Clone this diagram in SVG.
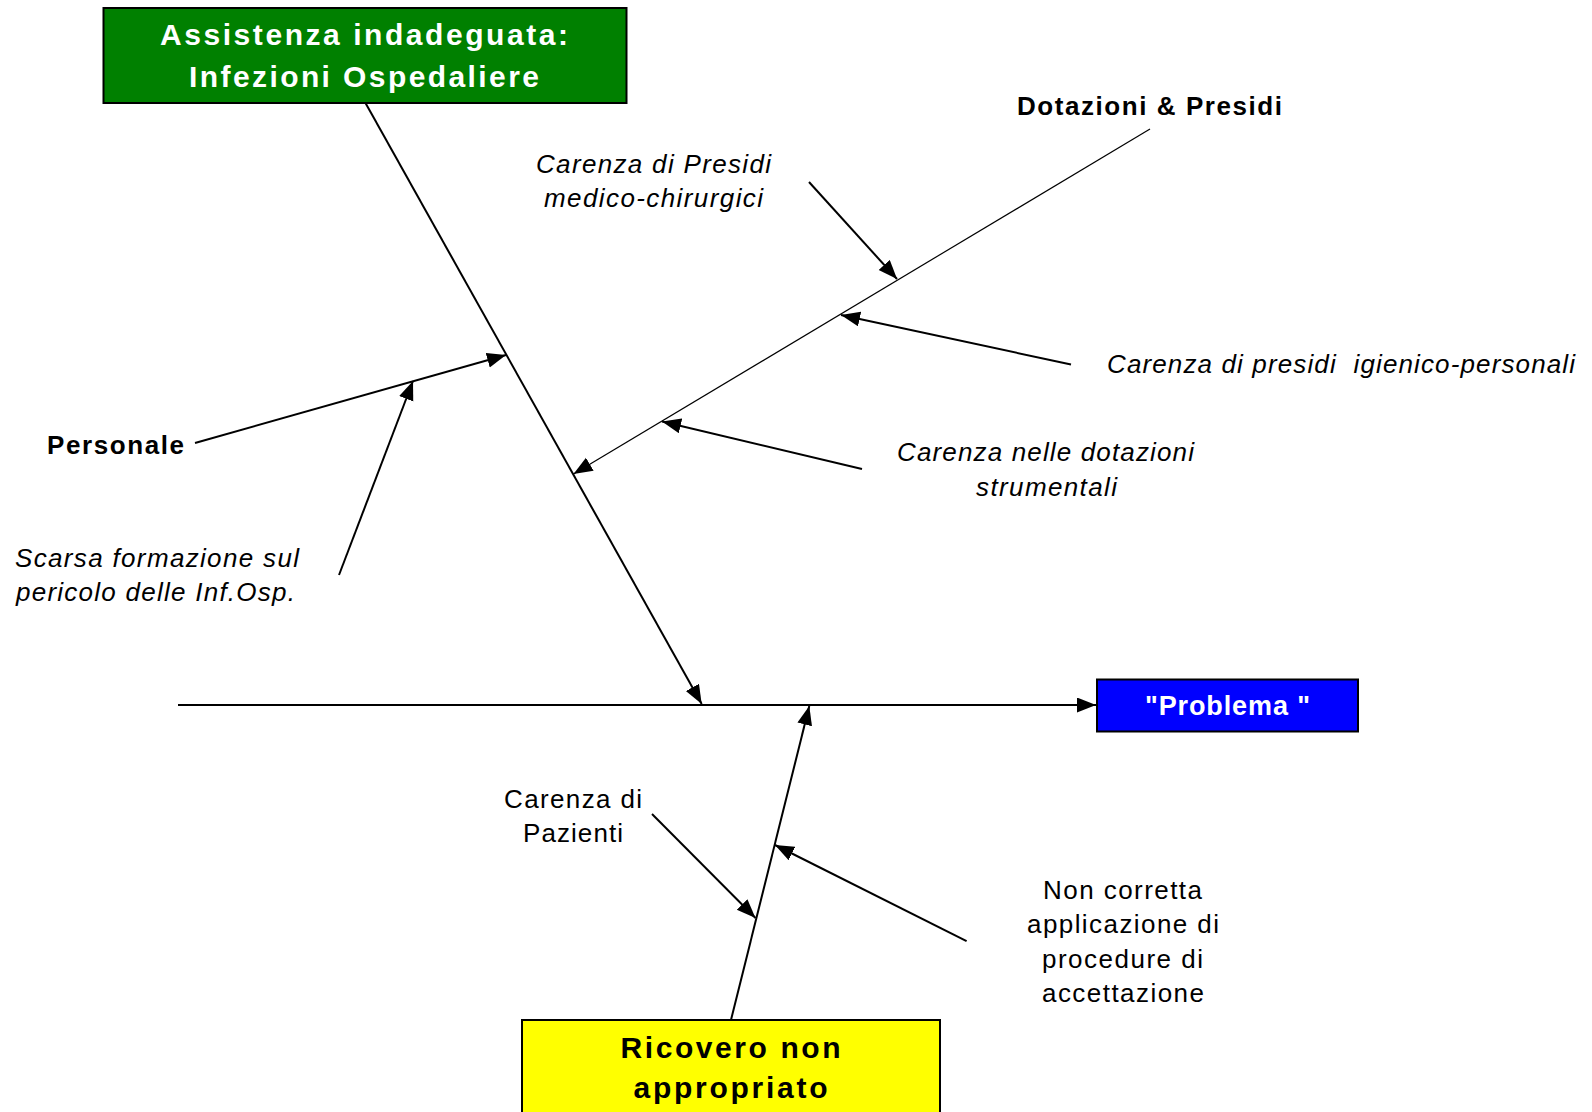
<svg xmlns="http://www.w3.org/2000/svg" width="1592" height="1112" viewBox="0 0 1592 1112">
<style>
.box{stroke:#000;stroke-width:2}
.t{font-family:"Liberation Sans",Arial,sans-serif;font-size:26px;fill:#000;white-space:pre}
.b{font-weight:bold}
.i{font-style:italic}
.w{fill:#fff}
.big{font-size:30px}
.ln{stroke:#000;stroke-width:2;fill:none}
.thin{stroke:#000;stroke-width:1.2;fill:none}
</style>
<defs>
<marker id="ah" markerUnits="userSpaceOnUse" markerWidth="20" markerHeight="16" refX="19" refY="7.5" orient="auto">
<path d="M0,0 L19,7.5 L0,15 z" fill="#000"/>
</marker>
</defs>
<rect width="1592" height="1112" fill="#fff"/>
<g id="connectors">
<line class="ln" x1="178" y1="705" x2="1096" y2="705" marker-end="url(#ah)"/>
<line class="ln" x1="365.5" y1="103" x2="701.7" y2="704" marker-end="url(#ah)"/>
<line class="ln" x1="731" y1="1020" x2="809.3" y2="706" marker-end="url(#ah)"/>
<line class="thin" x1="1150" y1="129" x2="573.5" y2="474" marker-end="url(#ah)"/>
<line class="ln" x1="809" y1="182" x2="897" y2="279" marker-end="url(#ah)"/>
<line class="ln" x1="1071" y1="364.5" x2="841" y2="315" marker-end="url(#ah)"/>
<line class="ln" x1="862" y1="469" x2="662" y2="421.5" marker-end="url(#ah)"/>
<line class="ln" x1="195" y1="443" x2="506" y2="355" marker-end="url(#ah)"/>
<line class="ln" x1="339" y1="575" x2="413" y2="381" marker-end="url(#ah)"/>
<line class="ln" x1="652" y1="814" x2="755.5" y2="918" marker-end="url(#ah)"/>
<line class="ln" x1="966.6" y1="941.2" x2="775" y2="845" marker-end="url(#ah)"/>
</g>
<g id="node-assistenza">
<rect class="box" x="103.5" y="8" width="523" height="95" fill="#008000"/>
<text class="t b w big" x="160" y="45" textLength="408" lengthAdjust="spacing">Assistenza indadeguata:</text>
<text class="t b w big" x="189" y="87" textLength="350" lengthAdjust="spacing">Infezioni Ospedaliere</text>
</g>
<g id="node-problema">
<rect class="box" x="1097" y="679.5" width="261" height="52" fill="#0000ff"/>
<text class="t b w" style="font-size:27px" x="1145" y="715" textLength="165" lengthAdjust="spacing">"Problema "</text>
</g>
<g id="node-ricovero">
<rect class="box" x="522" y="1020" width="418" height="100" fill="#ffff00"/>
<text class="t b big" x="620.5" y="1058" textLength="220" lengthAdjust="spacing">Ricovero non</text>
<text class="t b big" x="633.5" y="1098" textLength="194" lengthAdjust="spacing">appropriato</text>
</g>
<g id="node-dotazioni">
<text class="t b" x="1017" y="115" textLength="265" lengthAdjust="spacing">Dotazioni &amp; Presidi</text>
</g>
<g id="node-presidi-medico">
<text class="t i" x="536" y="172.5" textLength="235" lengthAdjust="spacing">Carenza di Presidi</text>
<text class="t i" x="544" y="207" textLength="219" lengthAdjust="spacing">medico-chirurgici</text>
</g>
<g id="node-presidi-igienico">
<text class="t i" x="1107" y="373" textLength="468" lengthAdjust="spacing">Carenza di presidi  igienico-personali</text>
</g>
<g id="node-dotazioni-strumentali">
<text class="t i" x="897" y="461" textLength="297" lengthAdjust="spacing">Carenza nelle dotazioni</text>
<text class="t i" x="976" y="496" textLength="141" lengthAdjust="spacing">strumentali</text>
</g>
<g id="node-personale">
<text class="t b" x="47" y="453.5" textLength="137" lengthAdjust="spacing">Personale</text>
</g>
<g id="node-formazione">
<text class="t i" x="15" y="566.5" textLength="284" lengthAdjust="spacing">Scarsa formazione sul</text>
<text class="t i" x="16" y="600.5" textLength="279" lengthAdjust="spacing">pericolo delle Inf.Osp.</text>
</g>
<g id="node-pazienti">
<text class="t" x="504" y="807.5" textLength="138" lengthAdjust="spacing">Carenza di</text>
<text class="t" x="523" y="841.5" textLength="100" lengthAdjust="spacing">Pazienti</text>
</g>
<g id="node-accettazione">
<text class="t" x="1043" y="898.5" textLength="159" lengthAdjust="spacing">Non corretta</text>
<text class="t" x="1027" y="933" textLength="192" lengthAdjust="spacing">applicazione di</text>
<text class="t" x="1042" y="967.5" textLength="161" lengthAdjust="spacing">procedure di</text>
<text class="t" x="1042" y="1002" textLength="162" lengthAdjust="spacing">accettazione</text>
</g>
</svg>
